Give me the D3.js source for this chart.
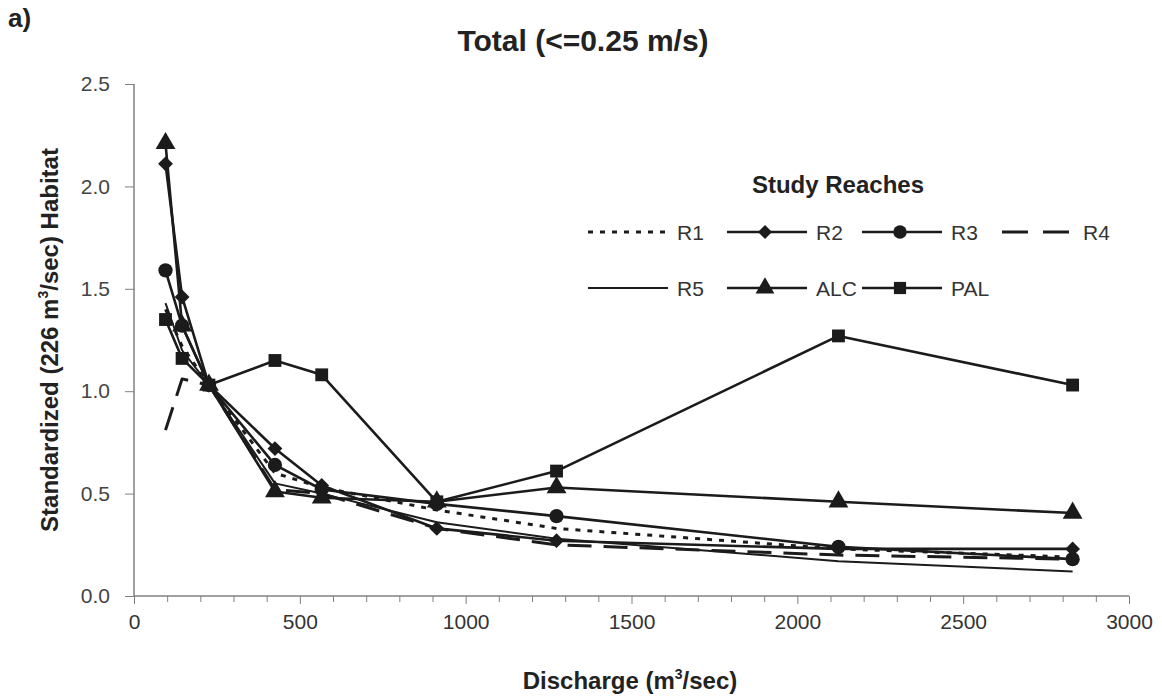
<!DOCTYPE html>
<html lang="en">
<head>
    <meta charset="UTF-8">
    <title>Total (<=0.25 m/s)</title>
    <style>
        body { margin: 0; background: #fff; }
        svg { display: block; }
        .lbl { font-family: "Liberation Sans", Arial, sans-serif; }
    </style>
</head>
<body>
    <div id="chart"></div>
    <script src="https://d3js.org/d3.v7.min.js"></script>
    <script>
        // discharge values (m3/sec) shared by all reaches
        var discharge = [95, 145, 226, 425, 566, 913, 1274, 2124, 2830];

        // standardized habitat per reach
        var r1 = [1.40, 1.22, 1.03, 0.60, 0.53, 0.42, 0.33, 0.23, 0.19];
        var r2 = [2.11, 1.46, 1.03, 0.72, 0.54, 0.33, 0.27, 0.23, 0.23];
        var r3 = [1.59, 1.32, 1.03, 0.64, 0.52, 0.45, 0.39, 0.24, 0.18];
        var r4 = [0.81, 1.06, 1.03, 0.52, 0.50, 0.33, 0.25, 0.20, 0.18];
        var r5 = [1.43, 1.20, 1.03, 0.55, 0.50, 0.36, 0.28, 0.17, 0.12];
        var alc = [2.21, 1.32, 1.03, 0.51, 0.48, 0.46, 0.53, 0.46, 0.405];
        var pal = [1.35, 1.16, 1.03, 1.15, 1.08, 0.46, 0.61, 1.27, 1.03];

        var xTicks = [0, 500, 1000, 1500, 2000, 2500, 3000];
        var yTicks = [0, 0.5, 1.0, 1.5, 2.0, 2.5];

        var series = [
            {name: "R1", values: r1, dash: "5,7", width: 3, marker: null},
            {name: "R2", values: r2, dash: null, width: 2.6, marker: "diamond"},
            {name: "R3", values: r3, dash: null, width: 2.6, marker: "circle"},
            {name: "R4", values: r4, dash: "24,12", width: 3, marker: null},
            {name: "R5", values: r5, dash: null, width: 2, marker: null},
            {name: "ALC", values: alc, dash: null, width: 2.6, marker: "triangle"},
            {name: "PAL", values: pal, dash: null, width: 2.6, marker: "square"}
        ];

        var width = 1162, height = 696;
        var ink = "#1b1b1b";

        var svg = d3.select("#chart").append("svg")
            .attr("width", width)
            .attr("height", height);

        var x = d3.scaleLinear().domain([0, 3000]).range([134, 1129]);
        var y = d3.scaleLinear().domain([0, 2.5]).range([596, 84]);

        // axes
        var xAxis = d3.axisBottom(x)
            .tickValues(d3.range(0, 3001, 100))
            .tickSize(6)
            .tickFormat(function(d) { return xTicks.indexOf(d) >= 0 ? d : ""; });
        var gx = svg.append("g")
            .attr("transform", "translate(0," + y(0) + ")")
            .call(xAxis);
        gx.selectAll("line").attr("stroke", "#808080");
        gx.select(".domain").attr("stroke", "#808080").attr("stroke-width", 1.5)
            .attr("d", "M" + x(0) + ",0H" + x(3000));
        gx.selectAll("text")
            .attr("class", "lbl")
            .attr("font-size", 21)
            .attr("fill", "#333")
            .attr("dy", "1.15em");
        gx.selectAll(".tick").filter(function(d) { return xTicks.indexOf(d) >= 0; })
            .select("line").attr("y2", 8);

        var yAxis = d3.axisLeft(y)
            .tickValues(yTicks)
            .tickSize(9)
            .tickPadding(15)
            .tickFormat(d3.format(".1f"));
        var gy = svg.append("g")
            .attr("transform", "translate(" + x(0) + ",0)")
            .call(yAxis);
        gy.selectAll("line").attr("stroke", "#808080");
        gy.select(".domain").attr("stroke", "#808080").attr("stroke-width", 1.5)
            .attr("d", "M0," + y(2.5) + "V" + y(0));
        gy.selectAll("text")
            .attr("class", "lbl")
            .attr("font-size", 21)
            .attr("fill", "#444");

        // lines
        var line = d3.line()
            .x(function(d) { return x(d[0]); })
            .y(function(d) { return y(d[1]); });

        function markerPath(kind, scale) {
            scale = scale || 1;
            if (kind === "circle") return d3.symbol().type(d3.symbolCircle).size(160 * scale)();
            if (kind === "square") return d3.symbol().type(d3.symbolSquare).size(165 * scale)();
            if (kind === "triangle") return d3.symbol().type(d3.symbolTriangle).size(170 * scale)();
            if (kind === "diamond") return d3.symbol().type(d3.symbolSquare).size(110 * scale)();
            return null;
        }

        series.forEach(function(s) {
            var pts = discharge.map(function(d, i) { return [d, s.values[i]]; });
            svg.append("path")
                .datum(pts)
                .attr("d", line)
                .attr("fill", "none")
                .attr("stroke", ink)
                .attr("stroke-width", s.width)
                .attr("stroke-dasharray", s.dash)
                .attr("stroke-linejoin", "round");
            if (s.marker) {
                svg.append("g").selectAll("path")
                    .data(pts)
                    .enter()
                    .append("path")
                    .attr("d", markerPath(s.marker))
                    .attr("transform", function(d) {
                        return "translate(" + x(d[0]) + "," + y(d[1]) + ")" +
                            (s.marker === "diamond" ? " rotate(45)" : "");
                    })
                    .attr("fill", ink);
            }
        });

        // legend
        var legend = svg.append("g");
        legend.append("text")
            .attr("class", "lbl")
            .attr("x", 838).attr("y", 193)
            .attr("text-anchor", "middle")
            .attr("font-size", 24)
            .attr("font-weight", "bold")
            .attr("fill", "#222")
            .text("Study Reaches");

        var legendPos = [
            [588, 232], [727, 232], [862, 232], [1002, 232],
            [588, 288], [727, 288], [862, 288]
        ];
        series.forEach(function(s, i) {
            var lx = legendPos[i][0], ly = legendPos[i][1];
            var len = i === 3 ? 70 : 80;
            legend.append("line")
                .attr("x1", lx).attr("x2", lx + len)
                .attr("y1", ly).attr("y2", ly)
                .attr("stroke", ink)
                .attr("stroke-width", s.width)
                .attr("stroke-dasharray", i === 3 ? "26,15" : s.dash);
            if (s.marker) {
                legend.append("path")
                    .attr("d", markerPath(s.marker, 0.9))
                    .attr("transform", "translate(" + (lx + 38) + "," + ly + ")" +
                        (s.marker === "diamond" ? " rotate(45)" : ""))
                    .attr("fill", ink);
            }
            legend.append("text")
                .attr("class", "lbl")
                .attr("x", lx + (i === 3 ? 81 : 89)).attr("y", ly + 8)
                .attr("font-size", 21)
                .attr("fill", "#333")
                .text(s.name);
        });

        // titles
        svg.append("text")
            .attr("class", "lbl")
            .attr("x", 8).attr("y", 27)
            .attr("font-size", 26)
            .attr("font-weight", "bold")
            .attr("fill", "#222")
            .text("a)");

        svg.append("text")
            .attr("class", "lbl")
            .attr("x", 583).attr("y", 51)
            .attr("text-anchor", "middle")
            .attr("font-size", 30)
            .attr("font-weight", "bold")
            .attr("fill", "#222")
            .text("Total (<=0.25 m/s)");

        var xl = svg.append("text")
            .attr("class", "lbl")
            .attr("x", 630).attr("y", 689)
            .attr("text-anchor", "middle")
            .attr("font-size", 24)
            .attr("font-weight", "bold")
            .attr("fill", "#222");
        xl.append("tspan").text("Discharge (m");
        xl.append("tspan").attr("font-size", 14).attr("dy", -10).text("3");
        xl.append("tspan").attr("dy", 10).text("/sec)");

        var yl = svg.append("text")
            .attr("class", "lbl")
            .attr("transform", "translate(58,340) rotate(-90)")
            .attr("text-anchor", "middle")
            .attr("font-size", 24)
            .attr("font-weight", "bold")
            .attr("fill", "#222");
        yl.append("tspan").text("Standardized (226 m");
        yl.append("tspan").attr("font-size", 14).attr("dy", -10).text("3");
        yl.append("tspan").attr("dy", 10).text("/sec) Habitat");
    </script>
</body>
</html>
